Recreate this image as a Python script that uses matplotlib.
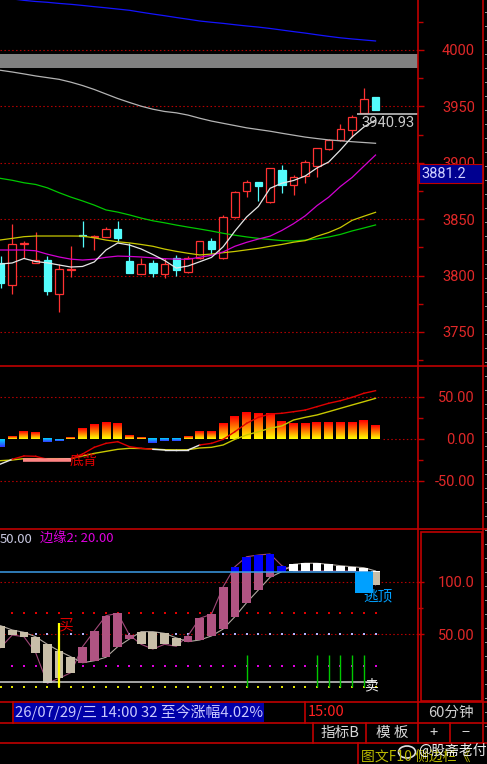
import numpy as np
import matplotlib
matplotlib.use("Agg")
import matplotlib.pyplot as plt
from matplotlib.patches import Rectangle, Ellipse

plt.rcParams['font.family'] = ['Noto Sans CJK SC', 'DejaVu Sans']
plt.rcParams['lines.scale_dashes'] = False
plt.rcParams['axes.unicode_minus'] = False

# ---------------- data ----------------
opens = [3811, 3792, 3828, 3811.5, 3814, 3784, 3805, 3835.5, 3834.5, 3834.5, 3841, 3813, 3801.5,
         3811.5, 3801.5, 3816, 3803, 3816, 3831, 3815.5, 3852, 3875, 3883, 3865, 3894, 3880, 3888,
         3897.5, 3912, 3920, 3929, 3944.5, 3958]
highs = [3817, 3846, 3831, 3839, 3817, 3810, 3826.5, 3848, 3836, 3843.5, 3848, 3828.5, 3816,
         3814, 3816, 3818, 3817, 3831, 3833, 3854, 3875, 3885, 3883, 3895.5, 3898, 3889, 3902.5,
         3913.5, 3921.5, 3934.5, 3942.5, 3966.5, 3958.5]
lows = [3789, 3784, 3816, 3811, 3783, 3768, 3799, 3825.5, 3823, 3834, 3830, 3802, 3801,
        3799, 3798, 3800, 3802, 3814.5, 3819, 3815, 3851.5, 3869.5, 3866, 3864.5, 3873, 3871.5, 3882.5,
        3887.5, 3911, 3919.5, 3923, 3944, 3947]
closes = [3793, 3828, 3828.5, 3813.5, 3786, 3806, 3806, 3835, 3835.5, 3841, 3833.5, 3802.5, 3810,
          3802.5, 3810, 3805, 3816, 3831, 3823.5, 3852, 3874, 3883, 3879, 3895, 3880, 3887, 3900.5,
          3913, 3920, 3930, 3941, 3957, 3947]

ma_blue = [4046, 4045.3, 4044, 4043, 4042.3, 4041.3, 4040.5, 4039.5, 4038.4, 4037.4, 4036.3, 4035.2,
           4033.5, 4031.9, 4030.4, 4028.8, 4027.3, 4025.7, 4024.6, 4023.6, 4022.4, 4021.3, 4020.3,
           4019.1, 4017.7, 4016.3, 4015, 4013.5, 4012.1, 4010.8, 4009.8, 4008.9, 4008]
ma_gray = [3982, 3980.5, 3978.8, 3977, 3975.5, 3974, 3971.5, 3968.5, 3965, 3961, 3957, 3953.5,
           3950.2, 3947.5, 3945.5, 3944.3, 3942.3, 3939.5, 3937, 3935, 3933, 3931, 3929.5, 3928,
           3926.2, 3924.5, 3922.8, 3921.5, 3920.3, 3919.5, 3918.7, 3918, 3917.3]
ma_green = [3886.2, 3884.5, 3882.3, 3880.8, 3877.8, 3873.5, 3869.6, 3866.2, 3862.5, 3858.2, 3856.3,
            3853.8, 3851, 3848.6, 3846.8, 3844.8, 3843, 3841.3, 3839.5, 3837.5, 3835.8, 3834.3, 3833,
            3832, 3831, 3830.7, 3831.5, 3832.5, 3834.2, 3836.5, 3839.6, 3842.2, 3844.9]
ma_yellow = [3831.6, 3833, 3834.5, 3835.1, 3835.1, 3835.1, 3835.1, 3835, 3833.5, 3831.5, 3830, 3829,
             3827.6, 3826, 3823.5, 3821.5, 3819.8, 3818.3, 3819.1, 3820.3, 3821.4, 3822.8, 3824.2,
             3826, 3827.6, 3829.6, 3831, 3834.9, 3838.2, 3842.6, 3849, 3852.6, 3856.1]
ma_magenta = [3822.7, 3822.7, 3822.7, 3822, 3819, 3816.5, 3814.6, 3813.8, 3814.5, 3816.2, 3817.3, 3817,
              3816.5, 3815.7, 3815, 3814.6, 3814.4, 3816.3, 3818, 3821, 3826, 3829.5, 3832.4, 3835,
              3840, 3846, 3853, 3862, 3869.5, 3879, 3887, 3897, 3906.9]
ma_white = [3810.3, 3811.2, 3815.2, 3812.5, 3811.3, 3809.4, 3807.6, 3808.1, 3812.1, 3822.7, 3828.9,
            3827.1, 3823.6, 3818.7, 3813.4, 3806.7, 3808.5, 3812.3, 3816.1, 3825.6, 3839.5, 3852,
            3861.3, 3877.4, 3881.9, 3884.3, 3888.3, 3895.4, 3900.7, 3911.3, 3922.9, 3931.7, 3937.9]

price_ticks = [3750, 3800, 3850, 3900, 3950, 4000]
price_minor = [3725, 3775, 3825, 3875, 3925, 3975, 4025]
band_range = (3984.3, 3996.5)
ref_price = 3943.0
ref_label = "3940.93"
cursor_label = "3881.2"

macd_bar = [-9, 3, 9.5, 7.5, -4, -2, 2, 12, 16.7, 19.5, 17.9, 4.4, 2, -4.8, -2.5, -2.5, 2.5, 9.1,
            8.7, 17.9, 26.6, 31.3, 29.8, 30.6, 21.4, 17.9, 17.9, 19.4, 19.4, 19.4, 19.4, 22.2, 15.9]
dif = [-29.8, -24.2, -20.2, -20.6, -24.2, -24.2, -23.4, -17.9, -9.9, -5.2, -3.2, -9.1, -11.1, -12.3,
       -13.1, -13.1, -13.1, -7.1, -5.2, -0.4, 8.7, 18.7, 25.8, 29.8, 30.6, 32.5, 34.5, 38.5, 42.5,
       45.6, 49.6, 54.4, 57.5]
dea = [-25.8, -25.0, -23.4, -23.4, -23.4, -23.4, -23.4, -20.2, -17.1, -14.7, -12.3, -11.1, -11.3,
       -11.9, -12.7, -12.9, -12.7, -10.7, -9.9, -7.1, -0.4, 4.8, 8.7, 12.7, 15.5, 22.6, 25.8, 28.6,
       32.5, 36.5, 40.5, 44.4, 48.4]
macd_ticks = [-50, 0, 50]
macd_labels = ["-50.00", "0.00", "50.00"]
macd_minor = [-25, 25]
div_span = (2, 6)
div_level = -25
div_label = "底背"

k_line = [37.4, 49.4, 47.8, 32.6, 3.6, 8.3, 13.7, 38.3, 53.2, 67.7, 70, 49.4, 40.6, 36.1, 40.6, 38.7,
          48.8, 65.3, 69.1, 95.3, 114.2, 123.7, 125.3, 126.3, 115.2, 110.2, 110.2, 110.2, 110.2,
          110.2, 110.2, 108.9, 96.9]
d_line = [58.3, 54.2, 52, 47.8, 40.6, 34.3, 28.8, 23.1, 25, 28.3, 38.3, 45.6, 52.6, 52.6, 51, 46.7,
          43.1, 44.7, 48.5, 55.1, 66.8, 80.1, 92.1, 104.2, 109.5, 116.5, 117.5, 117.5, 116.5, 115.2,
          114.2, 113.3, 110.2]
kd_ticks = [50, 100]
kd_labels = ["50.00", "100.0"]
kd_minor = [75]
kd_upper = 109
kd_base = 5.1
kd_dot_levels = [70, 50, 20, 0]
buy_idx = [5]
buy_top = 60.5
sell_idx = [21, 27, 28, 29, 30, 31]
sell_top = 30.3
escape_idx = 31
escape_range = (89.6, 108.9)
title_a = "50.00"
title_b = "边缘2: 20.00"

status_text = "26/07/29/三 14:00 32 至今涨幅4.02%"
time_text = "15:00"
period_text = "60分钟"
btn_texts = ["指标B", "模 板", "+", "−"]
bottom_text = "图文F10 侧边栏《"
watermark = "@股斋老付"

# ---------------- layout ----------------
W, H = 487, 764
fig = plt.figure(figsize=(W / 100, H / 100), dpi=100)
fig.patch.set_facecolor('black')

RED = '#e02828'
BORDER = '#c00000'
GRID = '#b40000'
UP = '#ff3232'
DN = '#54fcfc'
DOTS = (0, (1.1, 1.7))
n = len(closes)
idx = np.arange(n)
XL = (-0.5 / 11.72, (418 - 0.5) / 11.72)


def px_axes(x0, y0, x1, y1, z=1):
    ax = fig.add_axes([x0 / W, 1 - y1 / H, (x1 - x0) / W, (y1 - y0) / H], zorder=z)
    ax.set_facecolor('black')
    for s in ax.spines.values():
        s.set_visible(False)
    ax.tick_params(axis='x', bottom=False, labelbottom=False)
    ax.set_xlim(*XL)
    return ax


def right_ticks(ax, major, labels, minor):
    ax.yaxis.set_ticks_position('right')
    ax.set_yticks(major)
    ax.set_yticklabels(labels)
    ax.set_yticks(minor, minor=True)
    ax.tick_params(axis='y', which='major', direction='out', length=4.3, width=1.0, color=BORDER,
                   labelcolor=RED, labelsize=10.5, pad=36.7, right=True, left=False,
                   labelright=True, labelleft=False)
    ax.tick_params(axis='y', which='minor', direction='out', length=3.6, width=1.0, color=BORDER,
                   right=True, left=False)
    for t in ax.get_yticklabels():
        t.set_ha('right')
        t.set_family('Roboto')


# ---- main price panel ----
ax1 = px_axes(0, 0, 418, 366)
p_of = lambda y: 4000 - (y - 50) / 1.128
ax1.set_ylim(p_of(366), p_of(0))
ax1.hlines(price_ticks, *XL, colors=GRID, lw=0.8, linestyles=[DOTS], zorder=1)
ax1.axhspan(band_range[0], band_range[1], color='#808080', lw=0, zorder=1)

o = np.array(opens); c = np.array(closes); h = np.array(highs); l = np.array(lows)
up = c >= o
lo_b = np.minimum(o, c)
hi_b = np.maximum(np.maximum(o, c), lo_b + 0.9)
bw = 0.64
ax1.bar(idx[up], (hi_b - lo_b)[up], bottom=lo_b[up], width=bw, facecolor='black',
        edgecolor=UP, lw=0.9, zorder=3)
ax1.vlines(idx[up], hi_b[up], h[up], color=UP, lw=0.9, zorder=3)
ax1.vlines(idx[up], l[up], lo_b[up], color=UP, lw=0.9, zorder=3)
ax1.vlines(idx[~up], l[~up], h[~up], color=DN, lw=0.9, zorder=3)
ax1.bar(idx[~up], (hi_b - lo_b)[~up], bottom=lo_b[~up], width=bw, facecolor=DN,
        edgecolor=DN, lw=0.9, zorder=4)

for vals, col in [(ma_blue, '#1414ff'), (ma_gray, '#b4b4b4'), (ma_green, '#00c800'),
                  (ma_yellow, '#c8c800'), (ma_magenta, '#d200d2'), (ma_white, '#e6e6e6')]:
    ax1.plot(idx, vals, color=col, lw=0.9, zorder=5)

ax1.hlines(ref_price, 30.4, XL[1], color='#c0c0c0', lw=1.2, zorder=5)
ax1.text(XL[1] - 0.25, ref_price - 8, ref_label, ha='right', va='center', color='#c8c8c8',
         fontsize=10.5, family='Roboto', zorder=6)
right_ticks(ax1, price_ticks, [str(v) for v in price_ticks], price_minor)

# ---- MACD panel ----
ax2 = px_axes(0, 366, 418, 529)
m_of = lambda y: (439 - y) / 0.84
ax2.set_ylim(m_of(529), m_of(366))
ax2.hlines([50, -50], *XL, colors=GRID, lw=0.8, linestyles=[DOTS], zorder=1)
ax2.hlines(0, 32.6, XL[1], colors=GRID, lw=0.8, linestyles=[DOTS], zorder=1)

grad_t = np.linspace(0, 1, 48)[:, None]
for i, v in zip(idx, macd_bar):
    if v >= 0:
        cols = (1 - grad_t) * np.array([1.0, 1.0, 0.0]) + grad_t * np.array([1.0, 0.0, 0.0])
        ext = [i - 0.38, i + 0.38, 0, v]
    else:
        cols = (1 - grad_t) * np.array([0.2, 0.2, 1.0]) + grad_t * np.array([0.0, 0.85, 1.0])
        ext = [i - 0.38, i + 0.38, v, 0]
    ax2.imshow(cols[:, None, :], extent=ext, origin='lower', aspect='auto',
               interpolation='bilinear', zorder=2)

ax2.plot(idx, dea, color='#c8c800', lw=1.0, zorder=3)
for i in range(n - 1):
    col = '#e00000' if dif[i] >= dea[i] else '#e8e8e8'
    ax2.plot(idx[i:i + 2], dif[i:i + 2], color=col, lw=1.0, zorder=4)
ax2.hlines(div_level, div_span[0] - 0.08, div_span[1] + 0.05, color='#ff8484', lw=2.6, zorder=5)
ax2.text(div_span[1] - 0.1, div_level - 1, div_label, color='#e00000', fontsize=10, va='center',
         ha='left', zorder=6)
ax2.set_xlim(*XL)
ax2.set_ylim(m_of(529), m_of(366))
right_ticks(ax2, macd_ticks, macd_labels, macd_minor)

# ---- KD panel ----
ax3 = px_axes(0, 529, 418, 701.5)
k_of = lambda y: 100 - (y - 581.7) / 1.054
ax3.set_ylim(k_of(701.5), k_of(529))
ax3.hlines([100, 50], *XL, colors=GRID, lw=0.8, linestyles=[DOTS], zorder=1)
for lev, col in zip(kd_dot_levels, ['#e00000', '#b4b4ff', '#e000e0', '#e0e000']):
    xs = idx if lev == 0 else idx[1:]
    ax3.scatter(xs, [lev] * len(xs), marker='s', s=2.4, c=col, linewidths=0, zorder=1)

ax3.plot(idx, k_line, color='#a04878', lw=0.8, zorder=2)
ax3.plot(idx, d_line, color='#b0a8a0', lw=0.8, zorder=2)
MAUVE, BEIGE, BLUE, WHITE = '#b05482', '#c8bea8', '#0000ff', '#ffffff'
for i in idx:
    k, d = k_line[i], d_line[i]
    lo, hi = min(k, d), max(k, d)
    rising = k >= d
    if lo < kd_upper:
        top = min(hi, kd_upper)
        ax3.bar(i, top - lo, bottom=lo, width=0.75, color=MAUVE if rising else BEIGE, lw=0, zorder=3)
    if hi > kd_upper:
        bot = max(lo, kd_upper)
        ax3.bar(i, hi - bot, bottom=bot, width=0.75, color=BLUE if rising else WHITE, lw=0, zorder=3)

ax3.hlines(kd_upper, XL[0], n - 1.2, color='#3c9ce6', lw=1.1, zorder=4)
ax3.hlines(kd_base, XL[0], n - 1, color='#d0d0d0', lw=1.1, zorder=4)
ax3.bar(escape_idx, escape_range[1] - escape_range[0], bottom=escape_range[0], width=1.54,
        color='#00a0ff', lw=0, zorder=5)
ax3.text(escape_idx + 1.2, escape_range[0] - 4, "逃顶", color='#00a0ff', fontsize=10.5,
         ha='center', va='center', zorder=6)
ax3.vlines(buy_idx, 0, buy_top, color='#ffff00', lw=1.6, zorder=5)
ax3.vlines(sell_idx, 0, sell_top, color='#00c800', lw=1.0, zorder=5)
ax3.text(buy_idx[0] - 0.05, buy_top - 2, "买", color='#e00000', fontsize=10.5, ha='left',
         va='center', zorder=6)
ax3.text(sell_idx[-1] + 0.65, kd_base - 3.5, "卖", color='#f0f0f0', fontsize=10, ha='center',
         va='center', zorder=6)
ax3.set_xlim(*XL)
ax3.set_ylim(k_of(701.5), k_of(529))
right_ticks(ax3, kd_ticks, kd_labels, kd_minor)

# ---- overlay: borders, boxes, status bar ----
ov = fig.add_axes([0, 0, 1, 1], zorder=20)
ov.set_xlim(0, W)
ov.set_ylim(H, 0)
ov.axis('off')
ov.patch.set_alpha(0)

LW = 1.2
for y in [366, 529, 702, 722.7, 743.3]:
    ov.plot([0, W], [y, y], color=BORDER, lw=LW)
for x in [418, 483]:
    ov.plot([x, x], [0, 743.3], color=BORDER, lw=LW)
for x in [12.7, 305]:
    ov.plot([x, x], [702, 722.7], color=BORDER, lw=LW)
for x in [313, 366, 450]:
    ov.plot([x, x], [722.7, 743.3], color=BORDER, lw=LW)
ov.plot([358, 358], [743.3, H], color=BORDER, lw=LW)
ov.add_patch(Rectangle((420.5, 531.5), 61, 169, fill=False, ec=BORDER, lw=LW))
# tiny ticks of the neighbouring column at the right edge
for y in np.arange(12, 740, 14):
    ov.plot([484.5, 487], [y, y], color='#9a9a9a', lw=0.7)

ov.add_patch(Rectangle((419, 164), 63.5, 19, fc='#000090', ec=BORDER, lw=0.8))
ov.text(421, 174, cursor_label, color='#d0d0ff', fontsize=10.5, family='Roboto', va='center')

ov.text(0, 539.5, title_a, color='#c8c8e0', fontsize=9.5, va='center', ha='left')
ov.text(40, 539.5, title_b, color='#e000e0', fontsize=9.5, va='center', ha='left')

ov.add_patch(Rectangle((13.5, 703.2), 250.5, 18.8, fc='#0000a8', ec='none'))
ov.text(15, 712.5, status_text, color='#c8c8ff', fontsize=10.7, va='center', ha='left')
ov.text(308, 712.5, time_text, color='#ff2020', fontsize=10.5, va='center', ha='left')
ov.text(450.5, 712.5, period_text, color='#d0d0d0', fontsize=10.5, va='center', ha='center')
for t, x in zip(btn_texts, [340, 392, 434, 466]):
    ov.text(x, 733, t, color='#d8d8d8', fontsize=10.5, va='center', ha='center')
ov.text(361, 756.5, bottom_text, color='#b8b800', fontsize=10, va='center', ha='left')
ov.add_patch(Ellipse((407, 752), 17, 12, fill=False, ec='#e0e0e0', lw=1.2))
ov.text(418, 751, watermark, color='#f0f0f0', fontsize=10, va='center', ha='left')

fig.savefig('out.png', dpi=100, facecolor='black')
